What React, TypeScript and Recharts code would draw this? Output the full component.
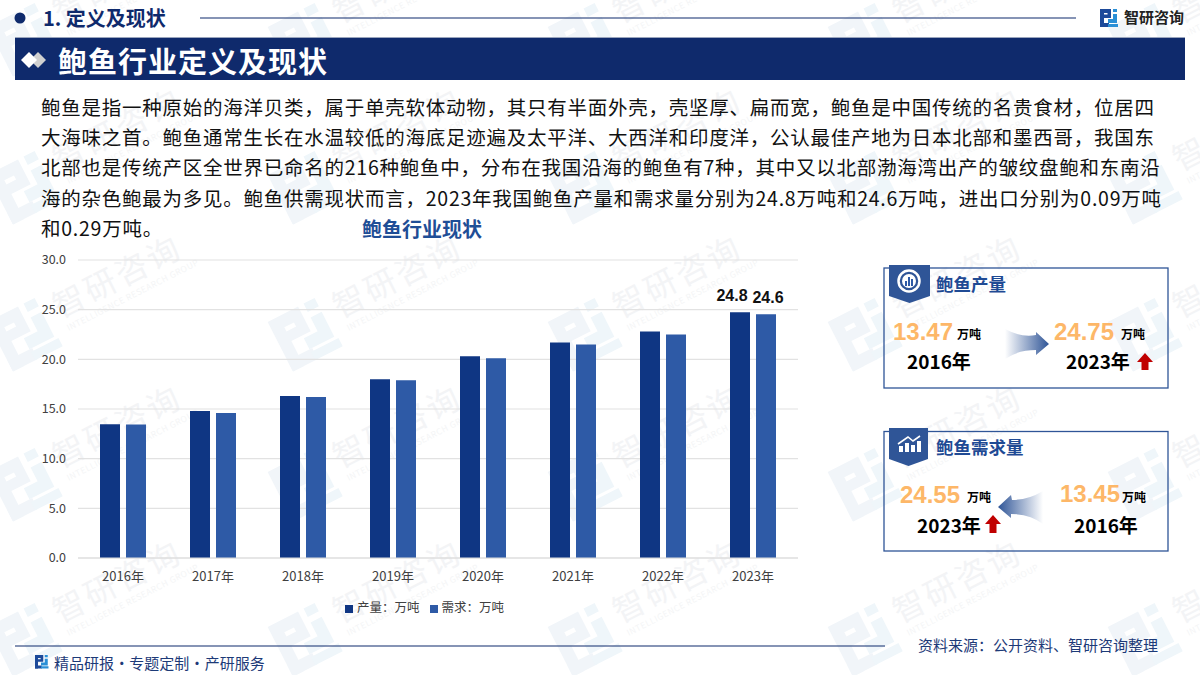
import React from "react";
import { BarChart, Bar, XAxis, YAxis, CartesianGrid, Legend, LabelList } from "recharts";

const years = ["2016年", "2017年", "2018年", "2019年", "2020年", "2021年", "2022年", "2023年"];
const production = [13.47, 14.8, 16.3, 18.0, 20.3, 21.7, 22.8, 24.75];
const demand = [13.45, 14.6, 16.2, 17.9, 20.1, 21.5, 22.5, 24.55];
const productionLabels = [null, null, null, null, null, null, null, "24.8"];
const demandLabels = [null, null, null, null, null, null, null, "24.6"];
const yTicks = [0, 5, 10, 15, 20, 25, 30];
const bodyLines = [
  "鲍鱼是指一种原始的海洋贝类，属于单壳软体动物，其只有半面外壳，壳坚厚、扁而宽，鲍鱼是中国传统的名贵食材，位居四",
  "大海味之首。鲍鱼通常生长在水温较低的海底足迹遍及太平洋、大西洋和印度洋，公认最佳产地为日本北部和墨西哥，我国东",
  "北部也是传统产区全世界已命名的216种鲍鱼中，分布在我国沿海的鲍鱼有7种，其中又以北部渤海湾出产的皱纹盘鲍和东南沿",
  "海的杂色鲍最为多见。鲍鱼供需现状而言，2023年我国鲍鱼产量和需求量分别为24.8万吨和24.6万吨，进出口分别为0.09万吨",
  "和0.29万吨。",
];
const watermarkXs = [28, 308, 588, 868, 1148];
const watermarkYs = [40, 188, 335, 485, 640];

const chartData = years.map((year, i) => ({
  year,
  production: production[i],
  demand: demand[i],
  productionLabel: productionLabels[i],
  demandLabel: demandLabels[i],
}));

const FONT = '"Noto Sans CJK SC", "Noto Sans", sans-serif';
const NUM = '"Liberation Sans", "Noto Sans CJK SC", sans-serif';
const NAVY = "#0f2a6c";
const DARK = "#0f3683";
const MID = "#2e5aa6";
const ORANGE = "#fdb768";

function T(p: { x: number; y: number; size: number; color?: string; bold?: boolean; ls?: number; ws?: number; font?: string; children: React.ReactNode }) {
  return (
    <div
      style={{
        position: "absolute",
        left: p.x,
        top: p.y - 20,
        height: 40,
        lineHeight: "40px",
        fontSize: p.size,
        color: p.color || "#000",
        fontWeight: p.bold ? 700 : 400,
        letterSpacing: p.ls || 0,
        wordSpacing: p.ws || 0,
        whiteSpace: "nowrap",
        fontFamily: p.font || FONT,
      }}
    >
      {p.children}
    </div>
  );
}

function Logo({ x, y, s, a, b }: { x: number; y: number; s: number; a: string; b: string }) {
  return (
    <g transform={`translate(${x} ${y}) scale(${s})`}>
      <path d="M0 0H11V9H4V18H0Z M4 4V5.500H7.500V4Z" fill={a} fillRule="evenodd" />
      <path d="M0 14H9V18H0Z" fill={a} />
      <path d="M13 0H17V3H13Z" fill={b} />
      <path d="M13 5H17V14H8V10H13Z" fill={b} />
      <path d="M8 15H18V18H8Z" fill={b} />
    </g>
  );
}

function Watermark({ x, y }: { x: number; y: number }) {
  return (
    <g transform={`translate(${x} ${y}) rotate(-27)`}>
      <Logo x={-30} y={-30} s={3.1} a="#f1f5f9" b="#eff6fa" />
      <text x={36} y={0} fontSize={32} letterSpacing={3} fill="#f3f4f6" fontFamily={FONT}>智研咨询</text>
      <text x={38} y={15} fontSize={8.5} letterSpacing={0.5} fill="#f4f5f6" fontFamily={FONT}>INTELLIGENCE RESEARCH GROUP</text>
    </g>
  );
}

function Decor() {
  return (
    <svg width={1200} height={675} style={{ position: "absolute", left: 0, top: 0 }}>
      <defs>
        <linearGradient id="arrowR" x1="0" x2="1" y1="0" y2="0">
          <stop offset="0" stopColor="#ffffff" />
          <stop offset="1" stopColor="#2f5597" />
        </linearGradient>
        <linearGradient id="arrowL" x1="1" x2="0" y1="0" y2="0">
          <stop offset="0" stopColor="#ffffff" />
          <stop offset="1" stopColor="#2f5597" />
        </linearGradient>
      </defs>
      <circle cx={20} cy={18} r={5.5} fill={NAVY} />
      <line x1={200} x2={1076} y1={18} y2={18} stroke={NAVY} strokeWidth={1.2} />
      <Logo x={1100} y={9} s={1} a="#1d4a9a" b="#2a8fd6" />
      <rect x={15} y={37} width={1170} height={1} fill="#9aa5bd" />
      <rect x={15} y={38} width={1170} height={42} fill={NAVY} />
      <path d="M38 52L46 60L38 68L30 60Z" fill="#d0d0d0" />
      <path d="M29 52L37 60L29 68L21 60Z" fill="#ffffff" />
      <line x1={15} x2={885} y1={646} y2={646} stroke={NAVY} strokeWidth={1.2} />
      <Logo x={35} y={655} s={0.75} a="#1d4a9a" b="#2a8fd6" />
      {/* card 1 */}
      <rect x={884} y={268} width={284} height={120} fill="none" stroke="#2f5597" strokeWidth={1.3} />
      <path d="M889 265H930V296L909.500 303L889 296Z" fill="#2f5597" />
      <circle cx={909} cy={281} r={10.5} fill="none" stroke="#fff" strokeWidth={2.5} />
      <circle cx={909} cy={281} r={7} fill="#fff" />
      <rect x={905} y={281} width={2} height={5} fill={MID} />
      <rect x={908} y={277} width={2} height={9} fill={MID} />
      <rect x={911} y={279} width={2} height={7} fill={MID} />
      <path d="M1005 329Q1022 338 1036 335L1036 332L1049 344L1036 355L1036 350Q1018 350 1005 359Z" fill="url(#arrowR)" />
      <path d="M1145 353L1153 362H1148.500V370H1141.500V362H1137Z" fill="#c00000" />
      {/* card 2 */}
      <rect x={884} y={431.500} width={284} height={119.500} fill="none" stroke="#2f5597" strokeWidth={1.3} />
      <path d="M889 428H928V459L908.500 466L889 459Z" fill="#2f5597" />
      <rect x={899} y={446} width={4} height={6} fill="#fff" />
      <rect x={905} y={443} width={4} height={9} fill="#fff" />
      <rect x={911} y={445} width={4} height={7} fill="#fff" />
      <rect x={917} y={441} width={4} height={11} fill="#fff" />
      <path d="M898 444L908 437L913 441L920 436" fill="none" stroke="#fff" strokeWidth={1.6} />
      <path d="M1043 491Q1028 500 1012 500L1011 495L998 507L1011 518L1011 514Q1030 514 1043 524Z" fill="url(#arrowL)" />
      <path d="M993 515L1001 524H996.500V533H989.500V524H985Z" fill="#c00000" />
    </svg>
  );
}

function makeLabel(shift: number) {
  return function BarLabel(p: any) {
    if (p.value === null || p.value === undefined) return null;
    return (
      <text
        x={p.x + p.width / 2 + shift}
        y={p.y - 11}
        textAnchor="middle"
        fontSize={16}
        fontWeight={700}
        fill="#111"
        fontFamily={NUM}
      >
        {p.value}
      </text>
    );
  };
}

export default function App() {
  return (
    <div style={{ position: "absolute", left: 0, top: 0, width: 1200, height: 675, background: "#fff", overflow: "hidden", fontFamily: FONT }}>
      <svg width={1200} height={675} style={{ position: "absolute", left: 0, top: 0 }}>
        {watermarkYs.map((y) => watermarkXs.map((x) => <Watermark key={`${x}-${y}`} x={x} y={y} />))}
      </svg>
      <Decor />

      <T x={43} y={18} size={20} bold color={NAVY}>1. 定义及现状</T>
      <T x={1124} y={17} size={15} bold color="#222">智研咨询</T>
      <T x={58} y={60} size={29} bold color="#fff" ls={1}>鲍鱼行业定义及现状</T>

      {bodyLines.map((line, i) => (
        <T key={i} x={41} y={107 + i * 30.2} size={19.5} color="#111" ls={0.75}>{line}</T>
      ))}

      <T x={362} y={229} size={20} bold color="#1f4e96">鲍鱼行业现状</T>

      <div style={{ position: "absolute", left: 20, top: 250 }}>
        <BarChart
          width={790}
          height={375}
          data={chartData}
          margin={{ top: 10, right: 12, bottom: 18, left: 0 }}
          barSize={20}
          barGap={6}
        >
          <CartesianGrid horizontal vertical={false} stroke="#e2e2e2" strokeWidth={1.2} />
          <XAxis
            dataKey="year"
            height={30}
            tickLine={false}
            axisLine={{ stroke: "#dcdcdc" }}
            tick={{ fontSize: 13, fill: "#404040", fontFamily: FONT }}
            tickMargin={8}
            interval={0}
          />
          <YAxis
            width={58}
            domain={[0, 30]}
            ticks={yTicks}
            tickLine={false}
            axisLine={false}
            tickMargin={6}
            tickFormatter={(v: number) => v.toFixed(1)}
            tick={{ fontSize: 12.5, fill: "#404040", fontFamily: FONT }}
          />
          <Legend
            iconType="square"
            iconSize={8}
            height={0}
            verticalAlign="bottom"
            align="left"
            wrapperStyle={{ left: 325, width: 200, top: 347, fontSize: 12.500, color: "#404040", fontFamily: FONT }}
            formatter={(value: string) => <span style={{ color: "#404040" }}>{value}</span>}
          />
          <Bar dataKey="production" name="产量：万吨" fill={DARK} isAnimationActive={false}>
            <LabelList dataKey="productionLabel" content={makeLabel(-8)} />
          </Bar>
          <Bar dataKey="demand" name="需求：万吨" fill={MID} isAnimationActive={false}>
            <LabelList dataKey="demandLabel" content={makeLabel(2)} />
          </Bar>
        </BarChart>
      </div>

      <T x={936} y={284} size={17.500} bold color="#1f4a94">鲍鱼产量</T>
      <T x={893} y={332} size={24} bold color={ORANGE} font={NUM}>13.47</T>
      <T x={957} y={334} size={12} bold>万吨</T>
      <T x={907} y={361} size={19} bold>2016年</T>
      <T x={1054} y={332} size={24} bold color={ORANGE} font={NUM}>24.75</T>
      <T x={1121} y={334} size={12} bold>万吨</T>
      <T x={1066} y={361} size={19} bold>2023年</T>

      <T x={936} y={447} size={17.500} bold color="#1f4a94">鲍鱼需求量</T>
      <T x={900} y={495} size={24} bold color={ORANGE} font={NUM}>24.55</T>
      <T x={967} y={497} size={12} bold>万吨</T>
      <T x={917} y={525} size={19} bold>2023年</T>
      <T x={1060} y={494} size={24} bold color={ORANGE} font={NUM}>13.45</T>
      <T x={1122} y={497} size={12} bold>万吨</T>
      <T x={1074} y={525} size={19} bold>2016年</T>

      <T x={54} y={663} size={15} color="#1d3a78" ws={-3.2}>精品研报 · 专题定制 · 产研服务</T>
      <T x={918} y={645} size={15} color="#1d3a78">资料来源：公开资料、智研咨询整理</T>
    </div>
  );
}
